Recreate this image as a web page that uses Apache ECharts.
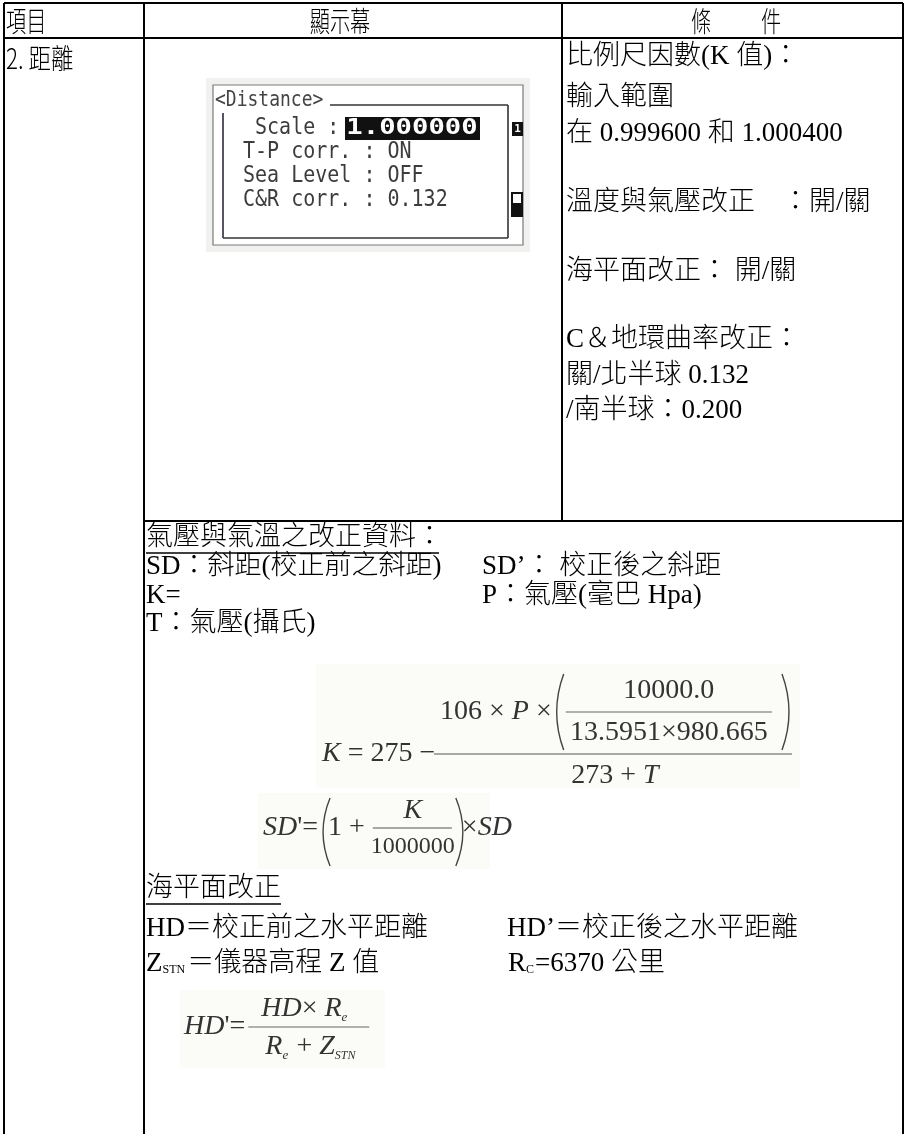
<!DOCTYPE html>
<html><head><meta charset="utf-8">
<script src="https://cdn.jsdelivr.net/npm/echarts@6/dist/echarts.min.js"></script>
<style>html,body{margin:0;padding:0;background:#fff}#c{width:907px;height:1134px}</style>
</head><body><div id="c"></div>
<script>
// ---- content (text data) ----
const headerLabels = ['項目', '顯示幕', '條', '件'];
const itemLabels = ['2. 距離'];
const lcdTitle = ['<Distance>'];
const lcdRows = [' Scale :', 'T-P corr. : ON', 'Sea Level : OFF', 'C&R corr. : 0.132'];
const lcdScaleValue = ['1.000000'];
const conditionLines = ['比例尺因數(K 值)：', '輸入範圍', '在 0.999600 和 1.000400', '溫度與氣壓改正　：開/關', '海平面改正： 開/關', 'C＆地環曲率改正：', '關/北半球 0.132', '/南半球：0.200'];
const tpTitle = ['氣壓與氣溫之改正資料：'];
const tpLeft = ['SD：斜距(校正前之斜距)', 'K=', 'T：氣壓(攝氏)'];
const tpRight = ['SD’： 校正後之斜距', 'P：氣壓(毫巴 Hpa)'];
const seaTitle = ['海平面改正'];
const seaLeft = ['HD＝校正前之水平距離'];
const seaRight = ['HD’＝校正後之水平距離'];
const zLabel = ['Z', 'STN', '＝儀器高程 Z 值'];
const rLabel = ['R', 'C', '=6370 公里'];
const kFormula = { lhs: ['K', ' = 275 − '], num: ['106', ' × ', 'P', ' ×'], inNum: ['10000.0'], inDen: ['13.5951×980.665'], den: ['273 + ', 'T'] };
const sdFormula = { lhs: ['SD', '\'='], one: ['1 + '], num: ['K'], den: ['1000000'], tail: ['×', 'SD'] };
const hdFormula = { lhs: ['HD', '\'='], num: ['HD', '× ', 'R', 'e'], den: ['R', 'e', ' + ', 'Z', 'STN'] };

// ---- layout ----
const SERIF = '"Liberation Serif", "Noto Sans CJK TC", serif';
const CJK = '"Noto Sans CJK TC", sans-serif';
const MONO = '"DejaVu Sans Mono", monospace';
const ctx = document.createElement('canvas').getContext('2d');
function tw(t, font) { ctx.font = font; return ctx.measureText(t).width; }
const els = [];
function txt(x, y, t, font, o) {
  o = o || {};
  els.push({ type: 'text', x: x, y: y, scaleX: o.sx || 1, scaleY: o.sy || 1, z: o.z || 10,
    style: { x: 0, y: 0, text: t, font: font, fill: o.fill || '#000', textAlign: o.align || 'left', textVerticalAlign: o.va || 'middle' } });
}
function line(x1, y1, x2, y2, o) {
  o = o || {};
  els.push({ type: 'line', z: o.z || 5, shape: { x1: x1, y1: y1, x2: x2, y2: y2 }, style: { stroke: o.stroke || '#000', lineWidth: o.w || 2 } });
}
function rect(x, y, w, h, o) {
  els.push({ type: 'rect', z: o.z || 3, shape: { x: x, y: y, width: w, height: h }, style: { fill: o.fill || 'none', stroke: o.stroke || null, lineWidth: o.w || 1 } });
}
function paren(x, y1, y2, left) {
  const m = (y1 + y2) / 2, d = left ? -14 : 14;
  els.push({ type: 'bezierCurve', z: 10, shape: { x1: x, y1: y1, x2: x, y2: y2, cpx1: x + d, cpy1: m }, style: { stroke: '#444', lineWidth: 1.4, fill: null } });
}
function seq(x, y, parts, size, color) {
  let cx = x;
  parts.forEach(function (p) {
    const f = (p[1] ? 'italic ' : '') + size + 'px ' + SERIF;
    txt(cx, y, p[0], f, { fill: color });
    cx += tw(p[0], f);
  });
  return cx;
}
function seqW(parts, size) { return parts.reduce(function (s, p) { return s + tw(p[0], (p[1] ? 'italic ' : '') + size + 'px ' + SERIF); }, 0); }

// table grid
const L = 4, R = 903, T = 3, B = 1134, C1 = 144, C2 = 562, H1 = 38, H2 = 521;
line(L, T, R, T); line(L, T, L, B); line(R, T, R, B);
line(L, H1, R, H1); line(C1, T, C1, B); line(C2, T, C2, H2); line(C1, H2, R, H2);

// header
const HF = '300 28px ' + CJK;
txt(6, 21, headerLabels[0], HF, { sx: 0.72 });
txt(340, 21, headerLabels[1], HF, { sx: 0.72, align: 'center' });
txt(701, 21, headerLabels[2], HF, { sx: 0.72, align: 'center' });
txt(771, 21, headerLabels[3], HF, { sx: 0.72, align: 'center' });
txt(6, 58, itemLabels[0], HF, { sx: 0.8 });

// LCD display
rect(206, 78, 324, 174, { fill: '#f1f1ef', z: 1 });
rect(213, 85, 310, 160, { fill: '#fff', stroke: '#7a7a7a', w: 1.2, z: 2 });
line(330, 105, 508, 105, { w: 1.6, stroke: '#333' });
line(508, 105, 508, 238, { w: 1.6, stroke: '#333' });
line(223, 238, 508, 238, { w: 1.6, stroke: '#333' });
line(223, 113, 223, 238, { w: 1.8, stroke: '#4a3f55' });
txt(215, 101, lcdTitle[0], '18px ' + MONO, { fill: '#444', sy: 1.15 });
const lcdYs = [128, 152, 176, 200];
lcdRows.forEach(function (r, i) { txt(243, lcdYs[i], r, '20px ' + MONO, { fill: '#3c3c3c', sy: 1.15 }); });
rect(345, 117, 135, 23, { fill: '#111', z: 8 });
txt(412, 129, lcdScaleValue[0], 'bold 21px ' + MONO, { fill: '#fff', sx: 1.3, align: 'center' });
rect(512, 122, 11, 14, { fill: '#111', z: 8 });
txt(517.5, 129, '1', 'bold 11px ' + MONO, { fill: '#fff', align: 'center' });
rect(512, 193, 10, 23, { fill: '#fff', stroke: '#111', w: 2, z: 8 });
rect(513, 203, 8, 12, { fill: '#111', z: 9 });

// conditions column
const CF = '300 27px ' + SERIF;
const condYs = [57, 98, 134, 203, 272, 340, 376, 411];
conditionLines.forEach(function (t, i) { txt(566, condYs[i], t, CF); });

// lower merged cell
const BF = '300 27px ' + SERIF;
txt(146, 538, tpTitle[0], BF);
line(146, 553, 146 + tw(tpTitle[0], BF) - 4, 553, { w: 1.3 });
txt(146, 567, tpLeft[0], BF); txt(146, 596, tpLeft[1], BF); txt(146, 624, tpLeft[2], BF);
txt(482, 567, tpRight[0], BF); txt(482, 596, tpRight[1], BF);

// K formula
const FS = 28, FC = '#333';
rect(316, 664, 484, 124, { fill: '#fbfbf7', z: 1 });
const kBarY = 754;
seq(322, kBarY, [[kFormula.lhs[0], 1], [kFormula.lhs[1], 0]], FS, FC);
line(434, kBarY, 792, kBarY, { w: 1.2, stroke: '#555' });
const nEnd = seq(440, 712, [[kFormula.num[0], 0], [kFormula.num[1], 0], [kFormula.num[2], 1], [kFormula.num[3], 0]], FS, FC);
paren(nEnd + 12, 674, 750, true);
line(nEnd + 14, 712, 772, 712, { w: 1.1, stroke: '#666' });
txt((nEnd + 14 + 772) / 2, 691, kFormula.inNum[0], FS + 'px ' + SERIF, { fill: FC, align: 'center' });
txt((nEnd + 14 + 772) / 2, 733, kFormula.inDen[0], FS + 'px ' + SERIF, { fill: FC, align: 'center' });
paren(782, 674, 750, false);
const dParts = [[kFormula.den[0], 0], [kFormula.den[1], 1]];
seq(615 - seqW(dParts, FS) / 2, 776, dParts, FS, FC);

// SD' formula
rect(258, 793, 232, 76, { fill: '#fbfbf7', z: 1 });
const sdY = 828;
const sdE = seq(263, sdY, [[sdFormula.lhs[0], 1], [sdFormula.lhs[1], 0]], FS, FC);
paren(sdE + 12, 798, 866, true);
const oneE = seq(sdE + 10, sdY, [[sdFormula.one[0], 0]], FS, FC);
line(oneE + 1, sdY, oneE + 80, sdY, { w: 1.1, stroke: '#555' });
txt(oneE + 41, 811, sdFormula.num[0], 'italic ' + FS + 'px ' + SERIF, { fill: FC, align: 'center' });
txt(oneE + 41, 847, sdFormula.den[0], '24px ' + SERIF, { fill: FC, align: 'center' });
paren(oneE + 84, 798, 866, false);
seq(oneE + 90, sdY, [[sdFormula.tail[0], 0], [sdFormula.tail[1], 1]], FS, FC);

// sea level section
txt(146, 889, seaTitle[0], BF);
line(146, 904, 146 + tw(seaTitle[0], BF), 904, { w: 1.3 });
txt(146, 929, seaLeft[0], BF);
txt(507, 929, seaRight[0], BF);
txt(146, 964, zLabel[0], BF);
const zW = tw(zLabel[0], BF);
txt(146 + zW, 970, zLabel[1], '12px ' + SERIF);
txt(146 + zW + tw(zLabel[1], '12px ' + SERIF) + 2, 964, zLabel[2], BF);
txt(508, 964, rLabel[0], BF);
const rW = tw(rLabel[0], BF);
txt(508 + rW, 970, rLabel[1], '12px ' + SERIF);
txt(508 + rW + tw(rLabel[1], '12px ' + SERIF) + 1, 964, rLabel[2], BF);

// HD' formula
rect(180, 990, 205, 78, { fill: '#fbfbf7', z: 1 });
const hdY = 1027;
const hdE = seq(184, hdY, [[hdFormula.lhs[0], 1], [hdFormula.lhs[1], 0]], FS, FC);
line(hdE + 3, hdY, hdE + 124, hdY, { w: 1.1, stroke: '#666' });
const nx = hdE + 16;
let e1 = seq(nx, 1009, [[hdFormula.num[0], 1], [hdFormula.num[1], 0], [hdFormula.num[2], 1]], FS, FC);
txt(e1, 1018, hdFormula.num[3], 'italic 13px ' + SERIF, { fill: FC });
let e2 = seq(nx + 4, 1047, [[hdFormula.den[0], 1]], FS, FC);
txt(e2, 1056, hdFormula.den[1], 'italic 13px ' + SERIF, { fill: FC });
e2 = seq(e2 + 7, 1047, [[hdFormula.den[2], 0], [hdFormula.den[3], 1]], FS, FC);
txt(e2, 1056, hdFormula.den[4], 'italic 12px ' + SERIF, { fill: FC });

const chart = echarts.init(document.getElementById('c'), null, { renderer: 'canvas' });
chart.setOption({ animation: false, backgroundColor: '#fff', graphic: { elements: els } });
</script>
</body></html>
